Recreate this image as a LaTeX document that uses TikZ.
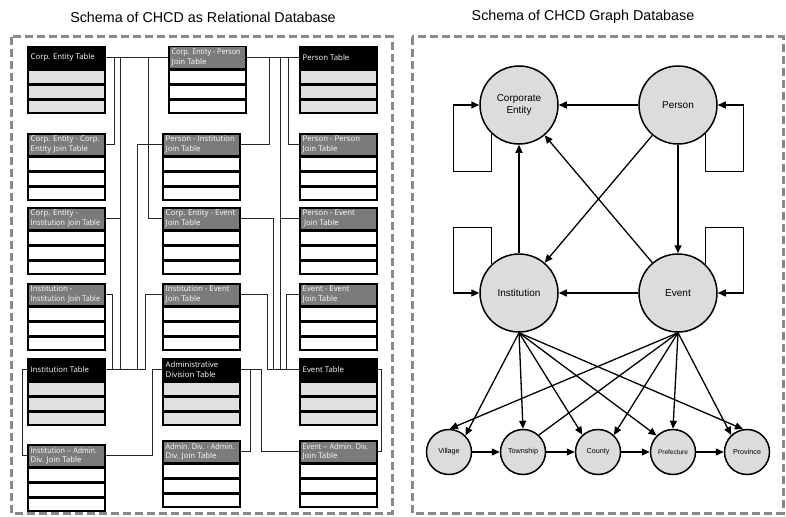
\documentclass[tikz,border=0pt]{standalone}
\usepackage{fontspec}
\setmainfont{Liberation Sans}
\newfontfamily\tabfont{Open Sans}
\newfontfamily\tabnarrow[FakeStretch=0.92]{Open Sans}
\usetikzlibrary{arrows.meta}

\definecolor{joingray}{HTML}{7B7B7B}
\definecolor{rowgray}{HTML}{E0E0E0}
\definecolor{framegray}{HTML}{8A8A8A}
\definecolor{nodegray}{HTML}{DCDCDC}

\tikzset{
  frame/.style={draw=framegray, line width=3pt, dash pattern=on 8pt off 4pt},
  title/.style={font=\fontsize{14.3}{16}\selectfont, inner sep=0pt},
  thead/.style={draw=black, line width=1.5pt, minimum width=77pt, minimum height=22pt, inner sep=0pt, anchor=north west},
  htext/.style={font=\tabfont\fontsize{7.8}{9.8}\selectfont, text=white, align=left, inner sep=0pt, anchor=west},
  trow/.style={draw=black, line width=1.5pt, minimum width=77pt, minimum height=13.33pt, inner sep=0pt, anchor=north},
  link/.style={draw=black!85, line width=0.9pt},
  bignode/.style={circle, draw=black, line width=1.5pt, fill=nodegray, minimum size=78pt, inner sep=0pt, align=center, font=\fontsize{10}{11.5}\selectfont},
  smallnode/.style={circle, draw=black, line width=1.5pt, fill=nodegray, minimum size=45pt, inner sep=0pt, font=\fontsize{7.2}{8}\selectfont},
  plainrel/.style={draw=black, line width=1.3pt},
  rel/.style={plainrel, -{Triangle[length=8pt,width=7pt]}},
}

% table: name, x, y, header fill, row fill, header text
\newcommand\dbtable[6]{%
  \node[thead, fill=#4] (#1) at (#2,#3) {};
  \node[htext] (#1-t) at ([xshift=3.5pt]#1.west) {#6};
  \node[trow, fill=#5] (#1-r1) at (#1.south) {};
  \node[trow, fill=#5] (#1-r2) at (#1-r1.south) {};
  \node[trow, fill=#5] (#1-r3) at (#1-r2.south) {};
}

\begin{document}
\begin{tikzpicture}[x=1pt, y=-1pt]
\useasboundingbox (0,0) rectangle (786,516);

% titles and frames
\node[title] (t-rel) at (203,17) {Schema of CHCD as Relational Database};
\node[title] (t-graph) at (583,17) {Schema of CHCD Graph Database};
\draw[frame] (11,37) rectangle (392,513);
\draw[frame] (412,37) rectangle (783,513);

% ---------- relational schema ----------
\dbtable{ce}{27}{46}{black}{rowgray}{Corp. Entity Table}
\dbtable{cep}{168}{46}{joingray}{white}{\tabnarrow Corp. Entity - Person\\Join Table}
\dbtable{pt}{299}{46}{black}{rowgray}{Person Table}

\dbtable{cece}{27}{133}{joingray}{white}{Corp. Entity - Corp.\\Entity Join Table}
\dbtable{pi}{162}{133}{joingray}{white}{Person - Institution\\Join Table}
\dbtable{pp}{299}{133}{joingray}{white}{Person - Person\\Join Table}

\dbtable{cei}{27}{207}{joingray}{white}{Corp. Entity -\\{\tabnarrow Institution\, Join Table}}
\dbtable{cev}{162}{207}{joingray}{white}{Corp. Entity - Event\\Join Table}
\dbtable{pev}{299}{207}{joingray}{white}{Person - Event\\\,Join Table}

\dbtable{ii}{27}{283}{joingray}{white}{Institution -\\{\tabnarrow Institution\, Join Table}}
\dbtable{ie}{162}{283}{joingray}{white}{Institution - Event\\Join Table}
\dbtable{ee}{299}{283}{joingray}{white}{Event - Event\\Join Table}

\dbtable{ins}{27}{358}{black}{rowgray}{Institution Table}
\dbtable{adm}{162}{358}{black}{rowgray}{Administrative\\Division Table}
\dbtable{evt}{299}{358}{black}{rowgray}{Event Table}

\dbtable{iad}{27}{444}{joingray}{white}{{\tabnarrow Institution -- Admin.}\\Div. Join Table}
\dbtable{aa}{162}{440}{joingray}{white}{{\tabnarrow Admin. Div. - Admin.}\\Div. Join Table}
\dbtable{ead}{299}{440}{joingray}{white}{{\tabnarrow Event -- Admin. Div.}\\Join Table}

% links along the top row
\draw[link] (ce.east) -- (cep.west);
\draw[link] (cep.east) -- (pt.west);
% corporate entity side
\draw[link] (cece.east) -| ([xshift=9pt]ce.east);
\draw[link] ([xshift=15pt]ce.east) -- ([xshift=15pt]ins.east);
\draw[link] (cei.east) -- ++(15,0);
\draw[link] (cev.west) -| ([xshift=43pt]ce.east);
% person side
\draw[link] (pi.east) -| ([xshift=-30pt]pt.west);
\draw[link] (pp.west) -| ([xshift=-11pt]pt.west);
\draw[link] ([xshift=-19pt]pt.west) -- ([xshift=-19pt]evt.west);
\draw[link] (pev.west) -- ++(-19,0);
% institution side
\draw[link] (pi.west) -| ([xshift=32pt]ins.east);
\draw[link] (ii.east) -| ([xshift=7pt]ins.east);
\draw[link] (ie.west) -| ([xshift=40pt]ins.east);
\draw[link] (ins.east) -- ++(40,0);
% event side
\draw[link] (cev.east) -| ([xshift=-26pt]evt.west);
\draw[link] (ie.east) -| ([xshift=-32pt]evt.west);
\draw[link] (ee.west) -| ([xshift=-13pt]evt.west);
\draw[link] (evt.west) -- ++(-32,0);
% administrative divisions
\draw[link] (ins.west) -- ++(-5,0) |- (iad.west);
\draw[link] (iad.east) -| ([xshift=-10pt]adm.west) -- (adm.west);
\draw[link] (adm.east) -- ++(21,0) |- (ead.west);
\draw[link] (adm.east) -- ++(10,0) |- (aa.east);
\draw[link] (evt.east) -- ++(4,0) |- (ead.east);

% ---------- graph schema ----------
\node[bignode] (cen) at (519,105) {Corporate\\Entity};
\node[bignode] (per) at (678,105) {Person};
\node[bignode] (inn) at (519,293) {Institution};
\node[bignode] (evn) at (678,293) {Event};

\node[smallnode] (vil) at (449,452) {Village};
\node[smallnode] (tow) at (523,452) {Township};
\node[smallnode] (cou) at (598,452) {County};
\node[smallnode, font=\fontsize{6.5}{7}\selectfont] (pre) at (673,452) {Prefecture};
\node[smallnode] (pro) at (747,452) {Province};

% self loops
\draw[rel] (cen.226) -- ++(0,38) -| ([xshift=-26pt]cen.west) -- (cen.west);
\draw[rel] (per.314) -- ++(0,38) -| ([xshift=26pt]per.east) -- (per.east);
\draw[rel] (inn.134) -- ++(0,-37) -| ([xshift=-26pt]inn.west) -- (inn.west);
\draw[rel] (evn.46) -- ++(0,-37) -| ([xshift=26pt]evn.east) -- (evn.east);

% relations between the main entities
\draw[rel] (per) -- (cen);
\draw[rel] (per) -- (inn);
\draw[rel] (per) -- (evn);
\draw[rel] (inn) -- (cen);
\draw[rel] (evn) -- (cen);
\draw[rel] (evn) -- (inn);

% locations
\draw[rel] (inn.south) -- (vil.45);
\draw[rel] (inn.south) -- (tow.90);
\draw[rel] (inn.south) -- (cou.132);
\draw[rel] (inn.south) -- (pre.135);
\draw[rel] (inn.south) -- (pro.100);
\draw[rel] (evn.south) -- (vil.88);
\draw[plainrel] (evn.south) -- (tow.47);
\draw[rel] (evn.south) -- (cou.47);
\draw[rel] (evn.south) -- (pre.90);
\draw[rel] (evn.south) -- (pro.133);

% administrative hierarchy
\draw[rel] (vil) -- (tow);
\draw[rel] (tow) -- (cou);
\draw[rel] (cou) -- (pre);
\draw[rel] (pre) -- (pro);
\end{tikzpicture}
\end{document}
